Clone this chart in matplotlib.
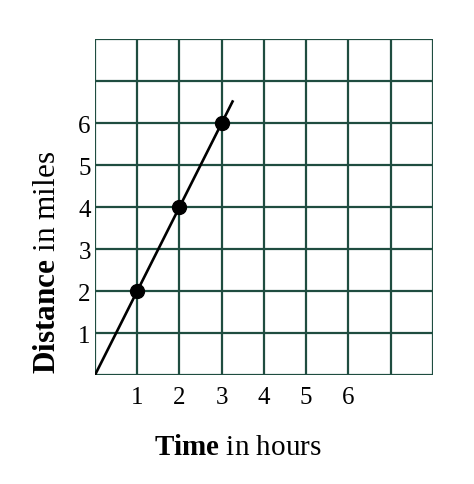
import matplotlib.pyplot as plt

# data
hours = [1, 2, 3]
miles = [2, 4, 6]
line_hours = [0, 3.27]
line_miles = [0, 6.54]
x_ticks = [1, 2, 3, 4, 5, 6]
y_ticks = [1, 2, 3, 4, 5, 6]
grid_max = 8

plt.rcParams["font.family"] = "Liberation Serif"
plt.rcParams["mathtext.fontset"] = "custom"
plt.rcParams["mathtext.rm"] = "Liberation Serif"
plt.rcParams["mathtext.bf"] = "Liberation Serif:bold"

grid_color = "#1f4d40"

fig = plt.figure(figsize=(4.74, 4.85), dpi=100)
ax = fig.add_axes([0.2004, 0.2247, 0.7131, 0.6928])

# grid lines
for i in range(grid_max + 1):
    ax.axvline(i, color=grid_color, lw=1.6, zorder=1)
    ax.axhline(i, color=grid_color, lw=1.6, zorder=1)

ax.plot(line_hours, line_miles, color="black", lw=1.9, zorder=2, solid_capstyle="butt")
ax.plot(hours, miles, "o", color="black", markersize=10, zorder=3)

ax.set_xlim(0, grid_max)
ax.set_ylim(0, grid_max)
for s in ax.spines.values():
    s.set_visible(False)

ax.set_xticks(x_ticks)
ax.set_yticks(y_ticks)
ax.set_xticklabels([str(t) for t in x_ticks])
ax.set_yticklabels([str(t) for t in y_ticks])
ax.tick_params(length=0, labelsize=18)
ax.tick_params(axis="x", pad=8)
ax.tick_params(axis="y", pad=3)

# axis titles, placed by hand like the original
fig.text(0.502, 0.0763, r"$\bf{Time}$ in hours", fontsize=21,
         ha="center", va="center")
fig.text(0.0992, 0.4598, r"$\bf{Distance}$ in miles", fontsize=22.5,
         ha="center", va="center", rotation=90)

fig.savefig("out.png", dpi=100)
